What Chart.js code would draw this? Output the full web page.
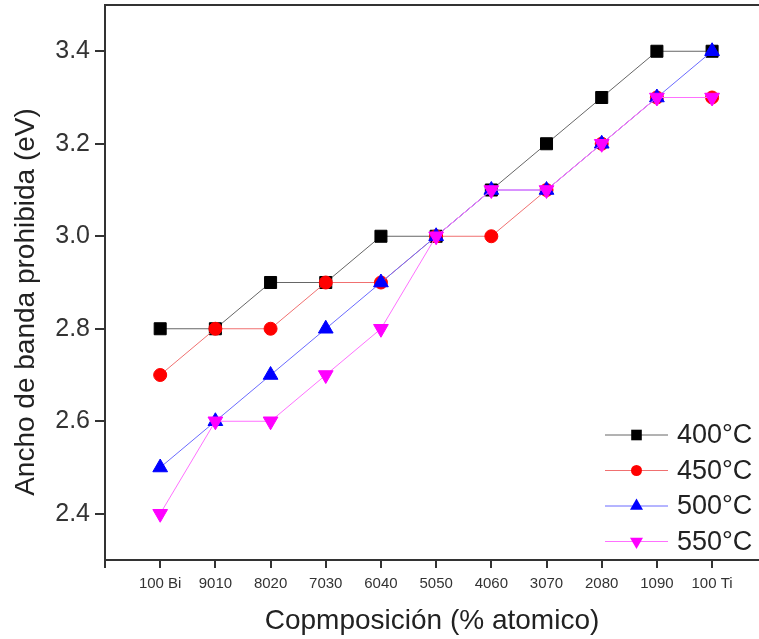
<!DOCTYPE html>
<html>
<head>
<meta charset="utf-8">
<script src="https://cdn.jsdelivr.net/npm/chart.js@4"></script>
<style>
  html, body { margin: 0; padding: 0; background: #fff; }
</style>
</head>
<body>
<canvas id="bandGapChart" width="759" height="639"></canvas>
<script>
// Band gap vs composition for four annealing temperatures
const composiciones = ["100 Bi", "9010", "8020", "7030", "6040", "5050", "4060", "3070", "2080", "1090", "100 Ti"];
const yTicks = [2.4, 2.6, 2.8, 3.0, 3.2, 3.4];

const serie400 = [2.8, 2.8, 2.9, 2.9, 3.0, 3.0, 3.1, 3.2, 3.3, 3.4, 3.4];
const serie450 = [2.7, 2.8, 2.8, 2.9, 2.9, 3.0, 3.0, 3.1, 3.2, 3.3, 3.3];
const serie500 = [2.5, 2.6, 2.7, 2.8, 2.9, 3.0, 3.1, 3.1, 3.2, 3.3, 3.4];
const serie550 = [2.4, 2.6, 2.6, 2.7, 2.8, 3.0, 3.1, 3.1, 3.2, 3.3, 3.3];

const FONT = "'Liberation Sans', Arial, sans-serif";
const AXIS = "#333";

function toPoints(vals) {
    return vals.map(function (v, i) { return { x: i, y: v }; });
}

function serie(label, vals, line, fill, style, radius, rotation, order) {
    return {
        label: label,
        data: toPoints(vals),
        showLine: true,
        borderColor: line,
        borderWidth: 1,
        pointStyle: style,
        pointRadius: radius,
        pointHoverRadius: radius,
        pointRotation: rotation,
        pointBackgroundColor: fill,
        pointBorderColor: fill,
        pointBorderWidth: 1,
        markerColor: fill,
        order: order
    };
}

function marker(ctx, style, rotation, r, x, y, color) {
    ctx.save();
    ctx.fillStyle = color;
    ctx.beginPath();
    if (style === "rect") {
        const s = Math.SQRT1_2 * r;
        ctx.rect(x - s, y - s, 2 * s, 2 * s);
    } else if (style === "circle") {
        ctx.arc(x, y, r, 0, Math.PI * 2);
    } else {
        let a = rotation * Math.PI / 180;
        ctx.moveTo(x + Math.sin(a) * r, y - Math.cos(a) * r);
        a += 2 * Math.PI / 3;
        ctx.lineTo(x + Math.sin(a) * r, y - Math.cos(a) * r);
        a += 2 * Math.PI / 3;
        ctx.lineTo(x + Math.sin(a) * r, y - Math.cos(a) * r);
        ctx.closePath();
    }
    ctx.fill();
    ctx.restore();
}

// legend with line + marker, inside the plot at bottom right
const legendPlugin = {
    id: "lineLegend",
    afterDraw: function (chart) {
        const ctx = chart.ctx;
        const area = chart.chartArea;
        const x0 = area.right - 154, x1 = area.right - 91;
        let y = area.bottom - 125;
        ctx.save();
        ctx.font = "27px " + FONT;
        ctx.textBaseline = "middle";
        ctx.fillStyle = "#222";
        chart.data.datasets.forEach(function (ds) {
            ctx.strokeStyle = ds.borderColor;
            ctx.lineWidth = 1;
            ctx.beginPath();
            ctx.moveTo(x0, y);
            ctx.lineTo(x1, y);
            ctx.stroke();
            marker(ctx, ds.pointStyle, ds.pointRotation, ds.pointRadius - 1, (x0 + x1) / 2, y, ds.markerColor);
            ctx.fillText(ds.label, x1 + 9, y + 1);
            y += 35.5;
        });
        ctx.restore();
    }
};

// rotated y axis title
const yTitlePlugin = {
    id: "yTitle",
    afterDraw: function (chart) {
        const ctx = chart.ctx;
        ctx.save();
        ctx.translate(26, chart.chartArea.bottom - 258);
        ctx.rotate(-Math.PI / 2);
        ctx.font = "28px " + FONT;
        ctx.fillStyle = "#222";
        ctx.textAlign = "center";
        ctx.textBaseline = "middle";
        ctx.fillText("Ancho de banda prohibida (eV)", 0, 0);
        ctx.restore();
    }
};

const ctx = document.getElementById("bandGapChart").getContext("2d");

new Chart(ctx, {
    type: "scatter",
    data: {
        datasets: [
            serie("400°C", serie400, "#666666", "#000000", "rect", 8.5, 0, 4),
            serie("450°C", serie450, "#f07070", "#ff0000", "circle", 6.5, 0, 3),
            serie("500°C", serie500, "#6a6aff", "#0000ff", "triangle", 8.5, 0, 2),
            serie("550°C", serie550, "#ff70ff", "#ff00ff", "triangle", 8.5, 180, 1)
        ]
    },
    options: {
        responsive: false,
        animation: false,
        devicePixelRatio: 1,
        layout: { padding: 0, autoPadding: false },
        plugins: {
            legend: { display: false },
            tooltip: { enabled: false }
        },
        scales: {
            x: {
                type: "linear",
                position: "bottom",
                min: -1,
                max: 10.85,
                afterBuildTicks: function (scale) {
                    scale.ticks = [-1].concat(composiciones.map(function (c, i) { return i; }))
                        .map(function (v) { return { value: v }; });
                },
                afterFit: function (scale) {
                    scale.height = 79;
                    scale.paddingLeft = 0;
                    scale.paddingRight = 0;
                },
                ticks: {
                    autoSkip: false,
                    maxRotation: 0,
                    padding: 7,
                    color: AXIS,
                    font: { family: FONT, size: 15 },
                    callback: function (v) { return composiciones[v] || ""; }
                },
                grid: { drawOnChartArea: false, drawTicks: true, tickLength: 8, color: AXIS, lineWidth: 2 },
                border: { display: true, color: AXIS, width: 2 },
                title: {
                    display: true,
                    text: "Copmposición (% atomico)",
                    color: "#222",
                    font: { family: FONT, size: 28 },
                    padding: { top: 0, bottom: 1 }
                }
            },
            xTop: {
                type: "linear",
                position: "top",
                min: -1,
                max: 10.85,
                afterFit: function (scale) {
                    scale.height = 5;
                    scale.paddingLeft = 0;
                    scale.paddingRight = 0;
                },
                ticks: { display: false },
                grid: { display: false },
                border: { display: true, color: AXIS, width: 2 }
            },
            y: {
                type: "linear",
                min: 2.3,
                max: 3.5,
                afterBuildTicks: function (scale) {
                    scale.ticks = yTicks.map(function (v) { return { value: v }; });
                },
                afterFit: function (scale) {
                    scale.width = 105;
                    scale.paddingTop = 0;
                    scale.paddingBottom = 0;
                },
                ticks: {
                    padding: 5,
                    color: AXIS,
                    font: { family: FONT, size: 25 },
                    callback: function (v) { return Number(v).toFixed(1); }
                },
                grid: { drawOnChartArea: false, drawTicks: true, tickLength: 10, color: AXIS, lineWidth: 2 },
                border: { display: true, color: AXIS, width: 2 }
            }
        }
    },
    plugins: [legendPlugin, yTitlePlugin]
});
</script>
</body>
</html>
